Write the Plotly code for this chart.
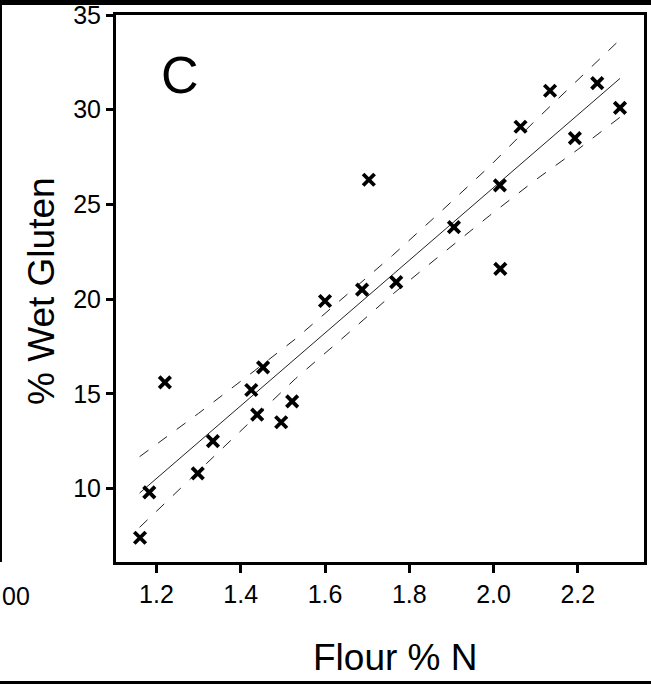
import plotly.graph_objects as go

# Data
flour_n = [1.161, 1.183, 1.220, 1.298, 1.334, 1.425, 1.453, 1.439, 1.496, 1.522, 1.600,
           1.688, 1.704, 1.769, 1.906, 2.015, 2.016, 2.064, 2.134, 2.193, 2.246, 2.300]
wet_gluten = [7.4, 9.8, 15.6, 10.8, 12.5, 15.2, 16.4, 13.9, 13.5, 14.6, 19.9,
              20.5, 26.3, 20.9, 23.8, 26.0, 21.6, 29.1, 31.0, 28.5, 31.4, 30.1]

fit_x = [1.16, 2.30]
fit_y = [9.76, 31.65]

band_x = [1.16, 1.30, 1.42, 1.53, 1.65, 1.76, 1.87, 1.99, 2.10, 2.20, 2.30]
band_upper = [11.68, 13.97, 16.00, 17.90, 20.20, 22.30, 24.52, 27.00, 29.45, 31.55, 33.70]
band_lower = [7.95, 10.93, 13.45, 15.80, 18.10, 20.25, 22.25, 24.40, 26.30, 27.90, 29.60]

x_ticks = [1.2, 1.4, 1.6, 1.8, 2.0, 2.2]
x_ticktext = ["1.2", "1.4", "1.6", "1.8", "2.0", "2.2"]
y_ticks = [10, 15, 20, 25, 30, 35]
y_ticktext = ["10", "15", "20", "25", "30", "35"]

FONT = "Liberation Sans, Arial, sans-serif"

fig = go.Figure()
fig.add_trace(go.Scatter(x=band_x, y=band_upper, mode="lines",
                         line=dict(color="#222", width=1, dash="11px,12px"),
                         hoverinfo="skip"))
fig.add_trace(go.Scatter(x=band_x, y=band_lower, mode="lines",
                         line=dict(color="#222", width=1, dash="11px,12px"),
                         hoverinfo="skip"))
fig.add_trace(go.Scatter(x=fit_x, y=fit_y, mode="lines",
                         line=dict(color="#222", width=1)))
fig.add_trace(go.Scatter(x=flour_n, y=wet_gluten, mode="markers",
                         marker=dict(symbol="x-thin", size=11.5,
                                     line=dict(color="black", width=3.8))))

L, R, T, B = 116, 7, 15, 122
W, H = 651, 684
pw, ph = W - L - R, H - T - B

def px(x):
    return (x - L) / pw

def py(y):
    return (H - B - y) / ph

fig.update_layout(
    width=W, height=H,
    margin=dict(l=L, r=R, t=T, b=B, autoexpand=False),
    paper_bgcolor="white", plot_bgcolor="white",
    showlegend=False,
    font=dict(family=FONT, color="black", size=25),
    xaxis=dict(range=[1.104, 2.357], tickvals=x_ticks, ticktext=x_ticktext,
               automargin=False,
               showgrid=False, zeroline=False, showline=True, mirror=True,
               linecolor="black", linewidth=3, ticks="outside", ticklen=8,
               tickwidth=2.5, tickcolor="black",
               tickfont=dict(family=FONT, size=25, color="black")),
    yaxis=dict(range=[6.12, 35], tickvals=y_ticks, ticktext=y_ticktext,
               automargin=False,
               showgrid=False, zeroline=False, showline=True, mirror=True,
               linecolor="black", linewidth=3, ticks="outside", ticklen=7,
               tickwidth=2.5, tickcolor="black",
               tickfont=dict(family=FONT, size=25, color="black")),
)

annotations = [
    dict(text="Flour % N", x=px(395), y=py(657), xref="paper", yref="paper",
         xanchor="center", yanchor="middle", showarrow=False,
         font=dict(family=FONT, size=37, color="black")),
    dict(text="% Wet Gluten", x=px(41), y=py(291), xref="paper", yref="paper",
         xanchor="center", yanchor="middle", showarrow=False, textangle=-90,
         font=dict(family=FONT, size=37, color="black")),
    dict(text="C", x=px(180), y=py(75), xref="paper", yref="paper",
         xanchor="center", yanchor="middle", showarrow=False,
         font=dict(family=FONT, size=52, color="black")),
    dict(text="00", x=px(0), y=py(596), xref="paper", yref="paper",
         xanchor="left", yanchor="middle", showarrow=False,
         font=dict(family=FONT, size=25, color="black")),
]
fig.update_layout(annotations=annotations)

shapes = [
    dict(type="rect", xref="paper", yref="paper", x0=px(0), x1=px(W), y0=py(5), y1=py(0),
         fillcolor="black", line=dict(width=0)),
    dict(type="line", xref="paper", yref="paper", x0=px(1), x1=px(1), y0=py(5), y1=py(562),
         line=dict(color="black", width=2)),
    dict(type="line", xref="paper", yref="paper", x0=px(0), x1=px(W), y0=py(682.5), y1=py(682.5),
         line=dict(color="black", width=3)),
]
fig.update_layout(shapes=shapes)

fig.write_html("out.html", config={"displayModeBar": False},
               post_script="document.body.style.margin='0px';document.body.style.overflow='hidden';")
